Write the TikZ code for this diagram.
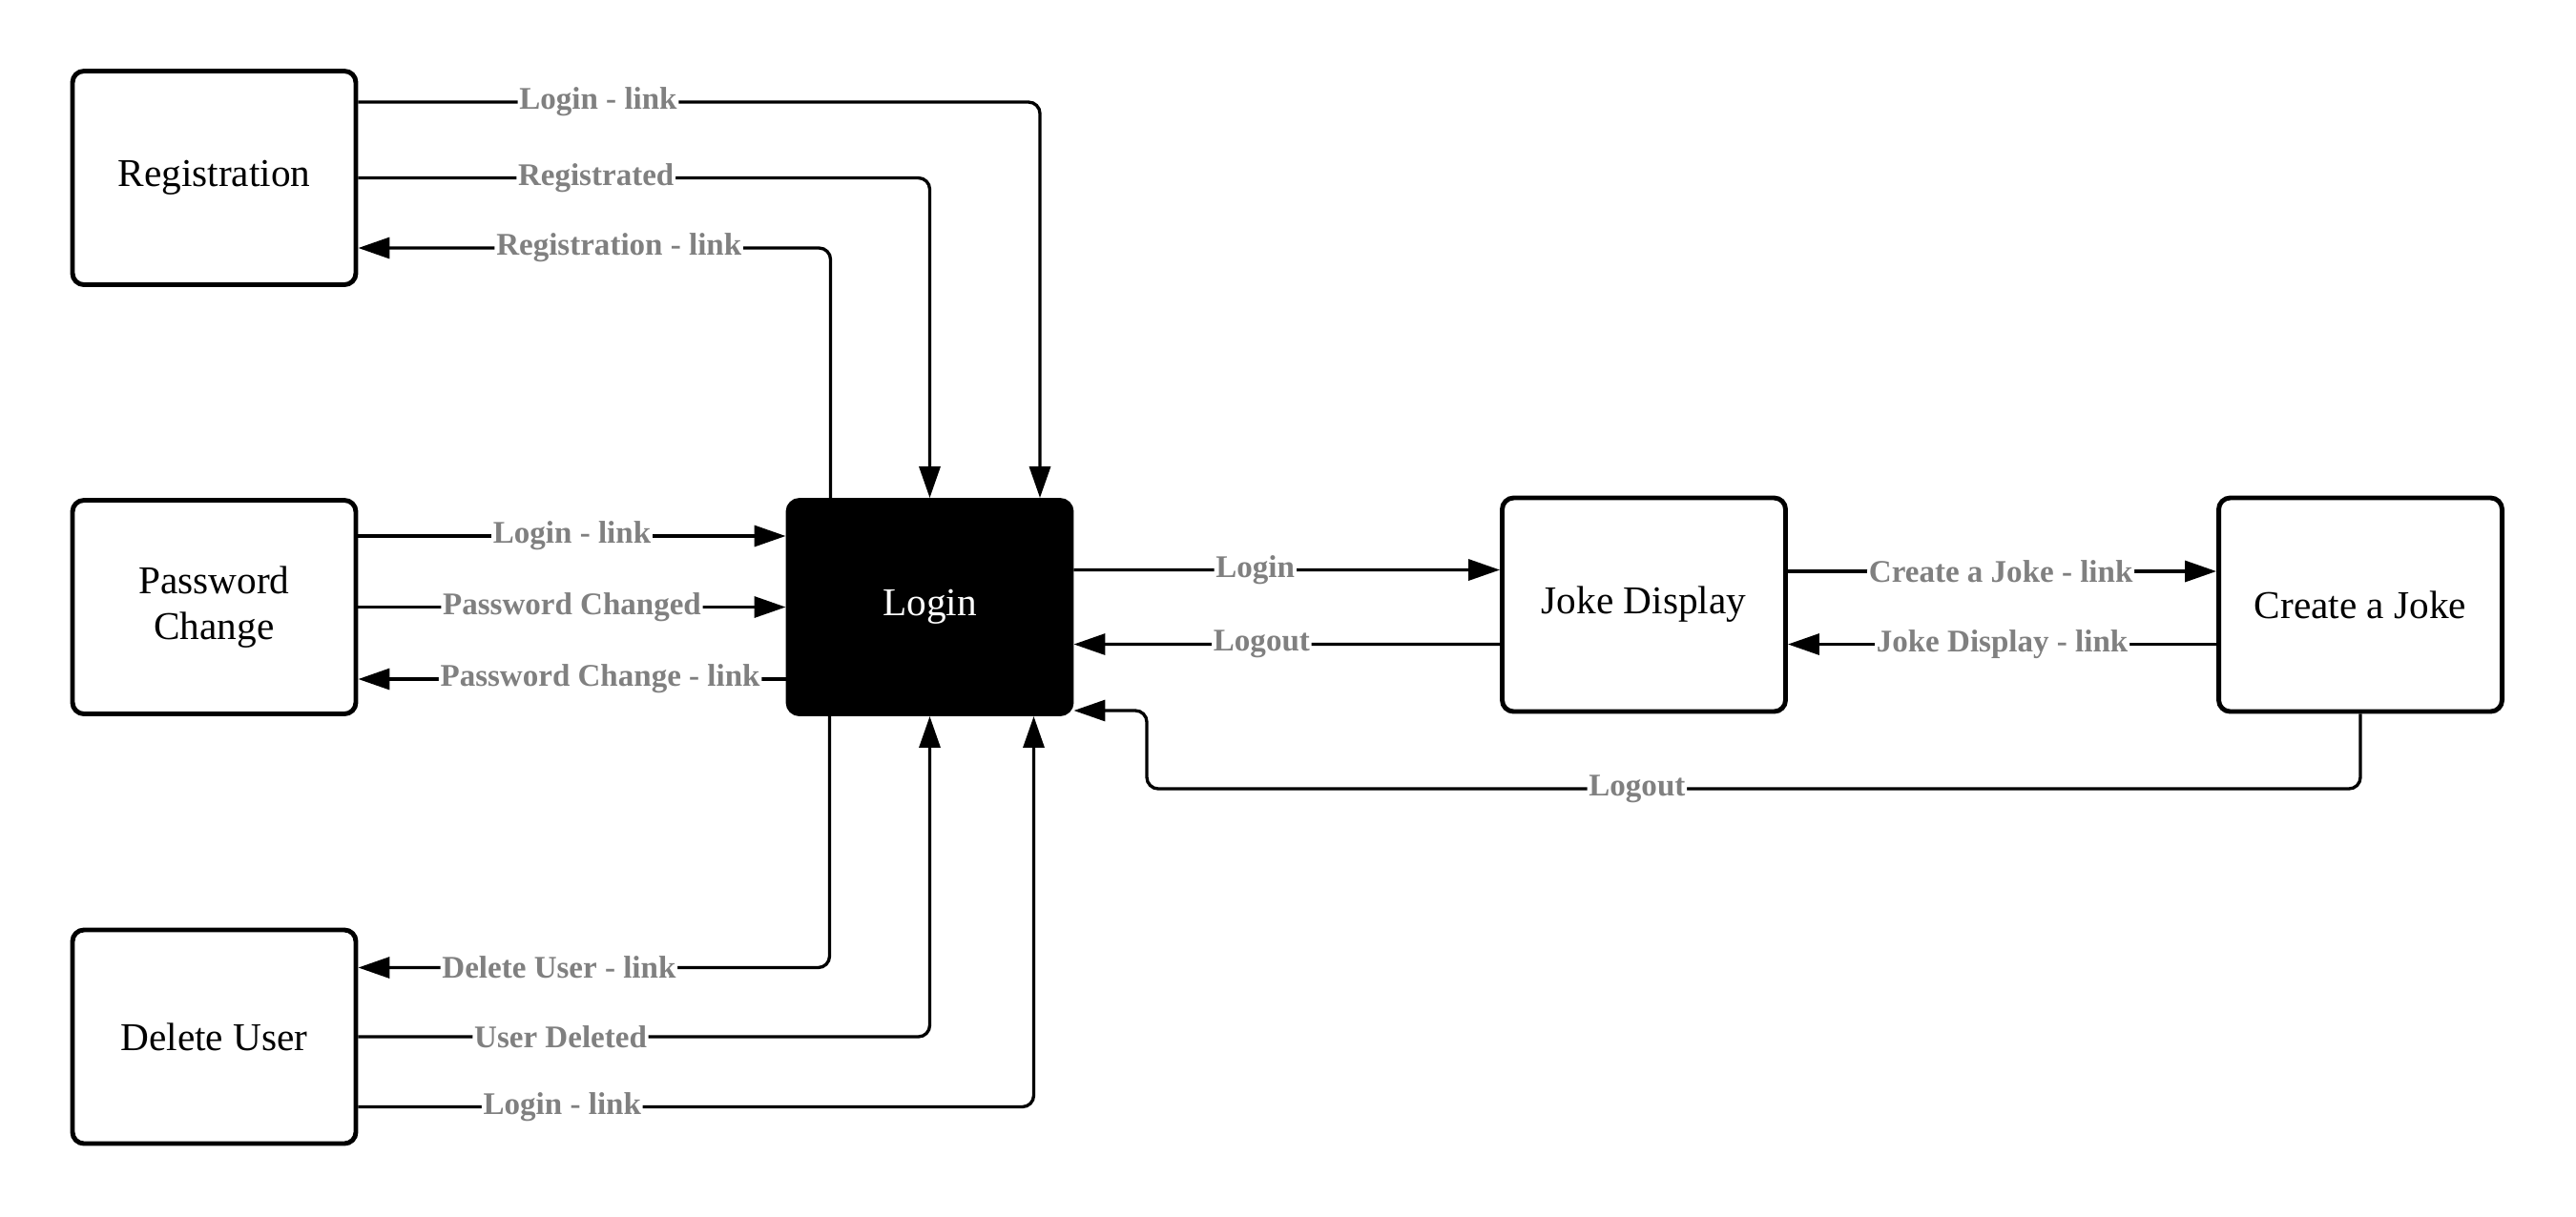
\documentclass[tikz,border=0pt]{standalone}
\usepackage{fontspec}
\setmainfont{Liberation Serif}
\usepackage{xcolor}
\usepackage{tikz}
\usetikzlibrary{arrows.meta}
\definecolor{lblgray}{RGB}{128, 128, 128}

\begin{document}
\begin{tikzpicture}[
	box/.style = {draw, line width = 1.4pt, rounded corners = 1.2mm, minimum width = 2.97cm, minimum height = 2.24cm, align = center, font = \fontsize{11.75}{13.8}\selectfont},
	conn/.style = {line width = 0.95pt, rounded corners = 1.2mm},
	tip/.style = {conn, -{Triangle[length = 0.33cm, width = 0.22cm]}},
	lbl/.style = {fill = white, text = lblgray, inner sep = 0.5pt, font = \bfseries\fontsize{9.4}{11}\selectfont}]
			\useasboundingbox (0,0) rectangle (27,-12.75);
			\node (reg) at (2.245,-1.865) [box] {Registration};
			\node (pwd) at (2.245,-6.365) [box] {Password\\Change};
			\node (del) at (2.245,-10.87) [box] {Delete User};
			\node (login) at (9.745,-6.365) [box, fill = black, text = white] {Login};
			\node (joke) at (17.23,-6.34) [box] {Joke Display};
			\node (create) at (24.74,-6.34) [box] {Create a Joke};
			\coordinate (lo) at (12.02,-8.27);
			% registration
			\draw[tip] ([yshift = 7.95mm]reg.east) -| node[lbl, pos = 0.176] {Login - link} ([xshift = 11.55mm]login.north);
			\draw[tip] (reg.east) -| node[lbl, pos = 0.208] {Registrated} (login.north);
			\draw[tip] ([xshift = -10.4mm]login.north) |- node[lbl, pos = 0.724] {Registration - link} ([yshift = -7.35mm]reg.east);
			% password change
			\draw[tip] ([yshift = 7.45mm]pwd.east) -- node[lbl] {Login - link} ([yshift = 7.45mm]login.west);
			\draw[tip] (pwd.east) -- node[lbl] {Password Changed} (login.west);
			\draw[tip] ([yshift = -7.55mm]login.west) -- node[lbl, pos = 0.434] {Password Change - link} ([yshift = -7.55mm]pwd.east);
			% delete user
			\draw[tip] ([xshift = -10.5mm]login.south) |- node[lbl, pos = 0.787] {Delete User - link} ([yshift = 7.25mm]del.east);
			\draw[tip] (del.east) -| node[lbl, pos = 0.177] {User Deleted} (login.south);
			\draw[tip] ([yshift = -7.35mm]del.east) -| node[lbl, pos = 0.151] {Login - link} ([xshift = 10.9mm]login.south);
			% jokes
			\draw[tip] ([yshift = 3.9mm]login.east) -- node[lbl, pos = 0.426] {Login} ([yshift = 3.65mm]joke.west);
			\draw[tip] ([yshift = -4.15mm]joke.west) -- node[lbl, pos = 0.559] {Logout} ([yshift = -3.9mm]login.east);
			\draw[tip] ([yshift = 3.5mm]joke.east) -- node[lbl, pos = 0.497] {Create a Joke - link} ([yshift = 3.5mm]create.west);
			\draw[tip] ([yshift = -4.15mm]create.west) -- node[lbl, pos = 0.50] {Joke Display - link} ([yshift = -4.15mm]joke.east);
			\draw[tip] (create.south) |- node[lbl, pos = 0.798] {Logout} (lo) |- ([yshift = -10.85mm]login.east);
\end{tikzpicture}
\end{document}
